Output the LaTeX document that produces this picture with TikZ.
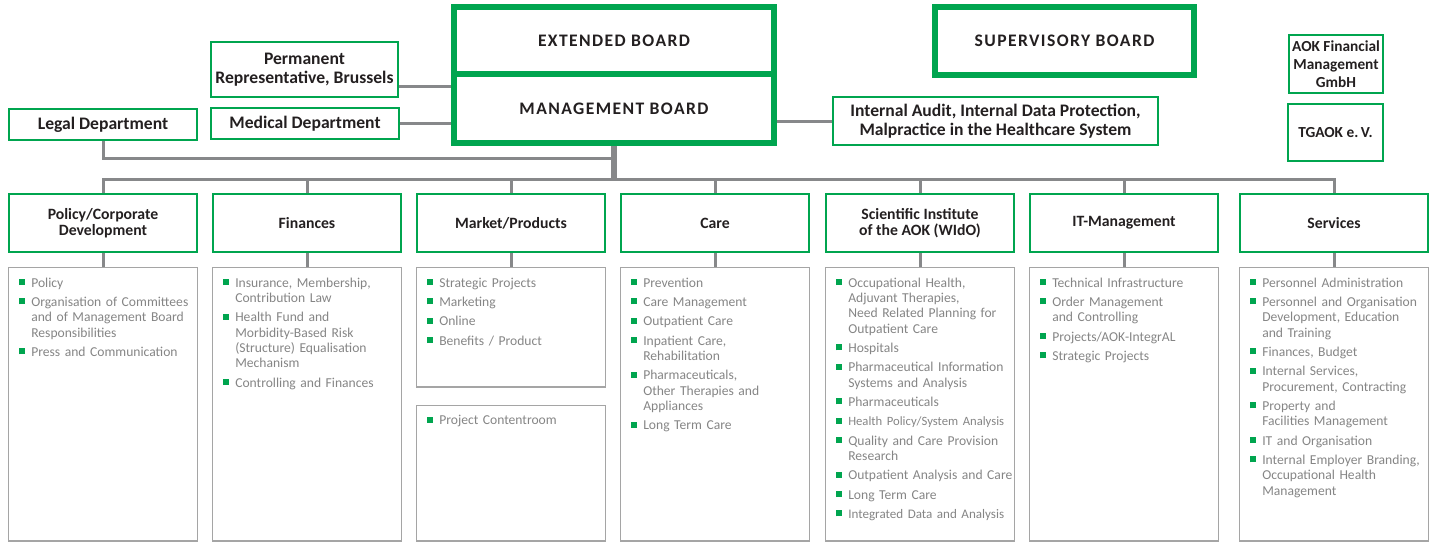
\documentclass[tikz,border=0pt]{standalone}
\usepackage{fontspec}
\setmainfont{Carlito}
\usepackage{xcolor}
\usetikzlibrary{positioning}

\definecolor{aokgreen}{HTML}{00A54F}
\definecolor{linegray}{HTML}{87888A}
\definecolor{boxgray}{HTML}{A5A5A5}
\definecolor{textgray}{HTML}{858585}
\definecolor{ink}{HTML}{231F20}

% list bullets: green square, hanging text
\newcommand{\bul}{\noindent\rightskip=0pt plus 1fil\hangindent=9pt\hangafter=1\makebox[9pt][l]{\raisebox{1.5pt}{\textcolor{aokgreen}{\rule{4.5pt}{4.5pt}}}}}
\newcommand{\itm}{\par\vspace{3pt}\bul}
\newcommand{\boardfont}{\fontsize{13.2}{15}\selectfont\bfseries\addfontfeatures{LetterSpace=8}}

\begin{document}
\begin{tikzpicture}[x=0.75pt, y=-0.75pt, board/.style={rectangle, draw=aokgreen, line width=4.5pt, fill=white, text=ink, font=\boardfont, inner sep=0pt, minimum width=240pt, minimum height=51pt}, sidebox/.style={rectangle, draw=aokgreen, line width=1.5pt, text=ink, font=\bfseries\fontsize{13.2}{14.5}\selectfont, align=center, inner sep=0pt}, unit/.style={rectangle, draw=aokgreen, line width=1.5pt, text=ink, font=\bfseries\fontsize{11.8}{12}\selectfont, align=center, inner sep=0pt, minimum width=141pt, minimum height=43.5pt}, listbox/.style={rectangle, draw=boxgray, line width=1.1pt, minimum width=141.4pt, inner sep=0pt}, items/.style={text=textgray, font=\fontsize{10.2}{11.5}\selectfont, text width=134pt, inner sep=0pt, anchor=base west}, link/.style={draw=linegray, line width=2.25pt}, trunk/.style={draw=linegray, line width=5pt}]

    \useasboundingbox (0,0) rectangle (1437,543);

    % Boards
    \node[board]                        (ext)   at (614,40.5)    {EXTENDED BOARD};
    \node[board, minimum height=51.75pt] (mgmt) at (614,108.5)   {MANAGEMENT BOARD};
    \node[board, minimum width=194.25pt] (super) at (1064.5,40.5) {SUPERVISORY BOARD};

    % Staff units
    \node[sidebox, minimum width=140.25pt, minimum height=41.25pt] (perm)    at (304.5,69.5) {Permanent\\Representative, Brussels};
    \node[sidebox, minimum width=141pt, minimum height=23.25pt]    (medical) at (305,123.5)  {Medical Department};
    \node[sidebox, minimum width=141pt, minimum height=23.25pt]    (legal)   at (103,124.5)  {Legal Department};
    \node[sidebox, minimum width=243.75pt, minimum height=36pt]    (audit)   at (995.5,121)  {Internal Audit, Internal Data Protection,\\Malpractice in the Healthcare System};
    \node[sidebox, font=\bfseries\fontsize{11.5}{13.5}\selectfont, minimum width=70.5pt, minimum height=43.5pt]  (aokfm) at (1336,64)    {AOK Financial\\Management\\GmbH};
    \node[sidebox, font=\bfseries\fontsize{11.5}{13.5}\selectfont, minimum width=71.25pt, minimum height=42.75pt] (tgaok) at (1335.5,132.5) {TGAOK e.\,V.};

    % Departments
    \node[unit] (policy)                                   at (103,223) {Policy/Corporate\\Development};
    \node[unit] (finances)  [right=10.5pt of policy]       {Finances};
    \node[unit] (market)    [right=10.5pt of finances]     {Market/Products};
    \node[unit] (care)      [right=10.5pt of market]       {Care};
    \node[unit] (wido)      [right=11.25pt of care]        {Scientific Institute\\of the AOK (WIdO)};
    \node[unit] (itmgmt)    [right=10.5pt of wido]         {IT-Management};
    \node[unit] (services)  [right=15pt of itmgmt]         {Services};

    % Task lists
    \node[listbox, minimum height=205pt]   (policy-list)   [below=10.5pt of policy]   {};
    \node[listbox, minimum height=205pt]   (finances-list) [below=10.5pt of finances] {};
    \node[listbox, minimum height=89.6pt]  (market-list)   [below=10.5pt of market]   {};
    \node[listbox, minimum height=101.6pt] (content-list)  [below=12.75pt of market-list] {};
    \node[listbox, minimum height=205pt]   (care-list)     [below=10.5pt of care]     {};
    \node[listbox, minimum height=205pt]   (wido-list)     [below=10.5pt of wido]     {};
    \node[listbox, minimum height=205pt]   (itmgmt-list)   [below=10.5pt of itmgmt]   {};
    \node[listbox, minimum height=205pt]   (services-list) [below=10.5pt of services] {};

    \node[items] (policy-items) at ([xshift=8.25pt, yshift=-15pt]policy-list.north west) {%
        \bul Policy
        \itm Organisation of Committees\newline and of Management Board\newline Responsibilities
        \itm Press and Communication\par};
    \node[items] (finances-items) at ([xshift=8.25pt, yshift=-15pt]finances-list.north west) {%
        \bul Insurance, Membership,\newline Contribution Law
        \itm Health Fund and\newline Morbidity-Based Risk\newline (Structure) Equalisation\newline Mechanism
        \itm Controlling and Finances\par};
    \node[items] (market-items) at ([xshift=8.25pt, yshift=-15pt]market-list.north west) {%
        \bul Strategic Projects
        \itm Marketing
        \itm Online
        \itm Benefits / Product\par};
    \node[items] (content-items) at ([xshift=8.25pt, yshift=-15pt]content-list.north west) {%
        \bul Project Contentroom\par};
    \node[items] (care-items) at ([xshift=8.25pt, yshift=-15pt]care-list.north west) {%
        \bul Prevention
        \itm Care Management
        \itm Outpatient Care
        \itm Inpatient Care,\newline Rehabilitation
        \itm Pharmaceuticals,\newline Other Therapies and\newline Appliances
        \itm Long Term Care\par};
    \node[items] (wido-items) at ([xshift=8.25pt, yshift=-15pt]wido-list.north west) {%
        \bul Occupational Health,\newline Adjuvant Therapies,\newline Need Related Planning for\newline Outpatient Care
        \itm Hospitals
        \itm Pharmaceutical Information\newline Systems and Analysis
        \itm Pharmaceuticals
        \itm {\fontsize{9.5}{11.5}\selectfont Health Policy/System Analysis}
        \itm Quality and Care Provision\newline Research
        \itm Outpatient Analysis and Care
        \itm Long Term Care
        \itm {\fontsize{9.8}{11.5}\selectfont Integrated Data and Analysis}\par};
    \node[items] (itmgmt-items) at ([xshift=8.25pt, yshift=-15pt]itmgmt-list.north west) {%
        \bul Technical Infrastructure
        \itm Order Management\newline and Controlling
        \itm Projects/AOK-IntegrAL
        \itm Strategic Projects\par};
    \node[items] (services-items) at ([xshift=8.25pt, yshift=-15pt]services-list.north west) {%
        \bul Personnel Administration
        \itm Personnel and Organisation\newline Development, Education\newline and Training
        \itm Finances, Budget
        \itm Internal Services,\newline Procurement, Contracting
        \itm Property and\newline Facilities Management
        \itm IT and Organisation
        \itm Internal Employer Branding,\newline Occupational Health\newline Management\par};

    % Lines ---------------
    \coordinate (permlink) at ([yshift=-13pt]perm.east);
    \coordinate (hub) at (614,158);
    \coordinate (bus) at (614,179);

    \draw[link] (permlink) -- (permlink -| mgmt.west);
    \draw[link] (medical.east) -- (medical.east -| mgmt.west);
    \draw[link] (mgmt.east |- audit.west) -- (audit.west);
    \draw[link] (legal.south) |- (hub);
    \draw[trunk] (mgmt.south) -- (bus);

    \foreach \u in {policy, finances, market, care, wido, itmgmt, services} {
        \draw[link] (bus) -| (\u.north);
        \draw[link] (\u.south) -- (\u-list.north);
    }

\end{tikzpicture}
\end{document}
